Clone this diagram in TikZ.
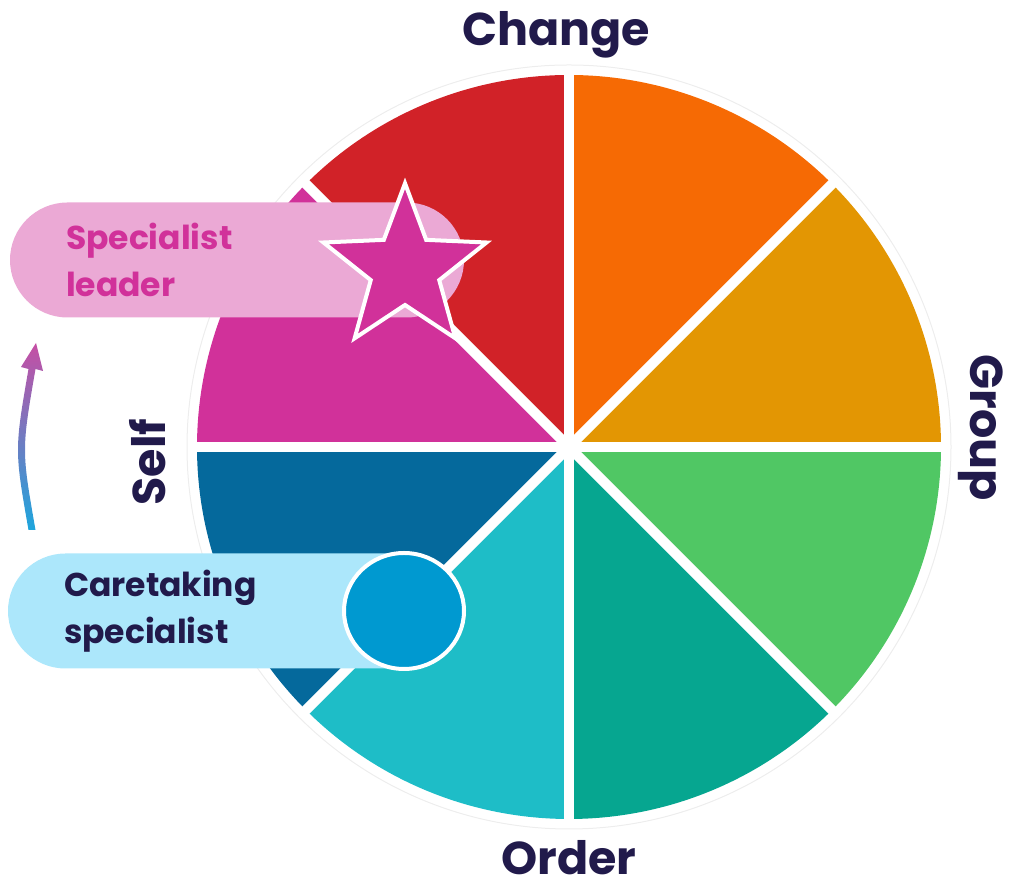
\documentclass[tikz,border=0pt]{standalone}
\usepackage{fontspec}
\setmainfont{Poppins}
\usepackage{tikz}
\usetikzlibrary{positioning,shapes.geometric,shapes.misc}
\definecolor{ink}{HTML}{211A4B}
\definecolor{segRed}{HTML}{D12228}
\definecolor{segOrange}{HTML}{F66A04}
\definecolor{segAmber}{HTML}{E39603}
\definecolor{segGreen}{HTML}{50C764}
\definecolor{segTeal}{HTML}{06A690}
\definecolor{segCyan}{HTML}{1EBDC7}
\definecolor{segNavy}{HTML}{05699C}
\definecolor{segMagenta}{HTML}{D1319A}
\definecolor{pillPink}{HTML}{EBA9D5}
\definecolor{pillBlue}{HTML}{ACE7FB}
\definecolor{dotBlue}{HTML}{0099D0}
\definecolor{arrowTop}{HTML}{C64EA4}
\definecolor{arrowBot}{HTML}{1DA6DD}

\begin{document}
\begin{tikzpicture}[
x=1pt, y=1pt,
    H/.style = {font=\fontsize{46}{46}\selectfont\bfseries, text=ink,% heading words
                inner sep=0pt},
    P/.style = {rounded rectangle, minimum width=454pt, minimum height=115pt,% pills
                inner sep=0pt},
    T/.style = {font=\fontsize{33}{47}\selectfont\bfseries, align=left,% pill text
                inner sep=0pt},
  gap/.style = {white, line width=10pt},
                        ]
\useasboundingbox (0,0) rectangle (1012,890);
\coordinate (C) at (569,443);
% wheel
\foreach \c [count=\i from 0] in {segOrange,segAmber,segGreen,segTeal,segCyan,segNavy,segMagenta,segRed}% <-- clockwise from top
    \fill[\c] (C) -- ++({90-45*\i}:372) arc[start angle={90-45*\i}, delta angle=-45, radius=372] -- cycle;
\foreach \a in {0,45,90,135}
    \draw[gap] ([shift={(\a:380)}]C) -- ([shift={(\a+180:380)}]C);
\draw[black!7, line width=1pt] (C) circle[radius=382];
% pills
\node[P, fill=pillPink] (lead) at (237,630) {};
\node[P, fill=pillBlue] (care) at (235,279) {};
\node[T, text=segMagenta, right=56pt of lead.west] (leadtxt) {Specialist\\leader};
\node[T, text=ink, right=56pt of care.west] (caretxt) {Caretaking\\specialist};
\node[star, star points=5, star point ratio=0.42, minimum size=72pt, inner sep=0pt,
      shape border rotate=180, fill=segMagenta, draw=white, line width=4pt] (starA) at (405,621) {};
\node[ellipse, minimum width=120pt, minimum height=116pt, inner sep=0pt,
      fill=dotBlue, draw=white, line width=4pt] (dotA) at (404,279) {};
% axis words
\node[H, anchor=base] (chg) at (556,844) {Change};
\node[H, anchor=base] (ord) at (569,15) {Order};
\node[H, anchor=base, rotate=90] (slf) at (165,428) {Self};
\node[H, anchor=base, rotate=-90] (grp) at (970,462) {Group};
% arrow
\coordinate (a0) at (32,360);
\coordinate (ac) at (18,440);
\coordinate (a1) at (32,521);
\coordinate (tip) at (36,547);
\shade[top color=arrowTop, bottom color=arrowBot]
    ([xshift=-3.5pt]a0) .. controls ([xshift=-3.5pt]ac) .. ([xshift=-3.5pt]a1)
    -- ([xshift=-11pt,yshift=2pt]a1) -- (tip) -- ([xshift=11pt,yshift=-2pt]a1)
    -- ([xshift=3.5pt]a1) .. controls ([xshift=3.5pt]ac) .. ([xshift=3.5pt]a0) -- cycle;
\end{tikzpicture}
\end{document}
